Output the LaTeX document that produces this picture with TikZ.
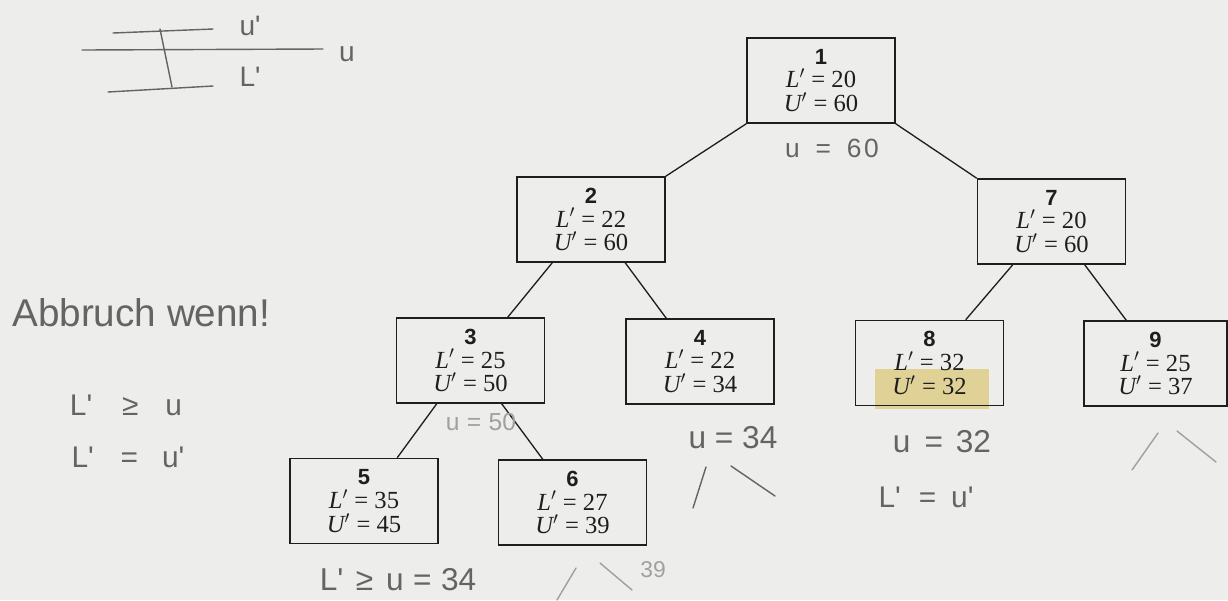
\documentclass[tikz,border=0pt]{standalone}
\usepackage{fontspec}
\setmainfont{Liberation Serif}
\newfontfamily\numfont{Liberation Sans}
\newfontfamily\handfont{Liberation Sans}
\usetikzlibrary{calc}
\definecolor{paper}{RGB}{237,237,235}
\definecolor{ink}{RGB}{30,30,30}
\definecolor{pencil}{RGB}{100,100,100}
\definecolor{faint}{RGB}{160,160,160}
\definecolor{marker}{RGB}{224,210,150}
\tikzset{
  bnode/.style={draw=ink, line width=0.9pt, minimum width=2.96cm, minimum height=1.7cm,
    inner sep=0pt, align=center, text=ink, font=\fontsize{14}{13.6}\selectfont},
  edge/.style={draw=ink, line width=0.75pt},
  hand/.style={text=pencil, font=\handfont\fontsize{17}{17}\selectfont, inner sep=0pt},
  faintHand/.style={hand, text=faint},
  stroke/.style={draw=pencil, line width=0.8pt, line cap=round},
  faintStroke/.style={draw=faint, line width=0.8pt, line cap=round},
}
\newcommand{\boxlab}[3]{{\numfont\bfseries\fontsize{12.5}{13.6}\selectfont #1}\\{\itshape L}$'$ = #2\\{\itshape U}$'$ = #3}
\begin{document}
\begin{tikzpicture}[x=0.02cm,y=-0.02cm]
\fill[paper] (0,0) rectangle (1228,600);
\useasboundingbox (0,0) rectangle (1228,600);
% highlighter on node 8
\fill[marker] (875,369) rectangle (989,409);
% boxes
\node[bnode] (n1) at (821,80.5) {\boxlab{1}{20}{60}};
\node[bnode] (n2) at (591,219.5) {\boxlab{2}{22}{60}};
\node[bnode] (n7) at (1051.5,221.5) {\boxlab{7}{20}{60}};
\node[bnode] (n3) at (470.5,360.5) {\boxlab{3}{25}{50}};
\node[bnode] (n4) at (700,361.5) {\boxlab{4}{22}{34}};
\node[bnode] (n8) at (929.5,363) {\boxlab{8}{32}{32}};
\node[bnode, minimum width=2.86cm] (n9) at (1155.5,363.5) {\boxlab{9}{25}{37}};
\node[bnode] (n5) at (364,501) {\boxlab{5}{35}{45}};
\node[bnode] (n6) at (572.5,502.5) {\boxlab{6}{27}{39}};
% connectors
\draw[edge] (n1.south west) -- (n2.north east);
\draw[edge] (n1.south east) -- (n7.north west);
\draw[edge] ($(n2.south west)+(36,0)$) -- ($(n3.north west)+(112,0)$);
\draw[edge] ($(n2.south west)+(109,0)$) -- ($(n4.north west)+(41,0)$);
\draw[edge] ($(n3.south west)+(41,0)$) -- ($(n5.north west)+(108,0)$);
\draw[edge] ($(n3.south west)+(106,0)$) -- ($(n6.north west)+(45,0)$);
\draw[edge] ($(n7.south west)+(36,0)$) -- ($(n8.north west)+(111,0)$);
\draw[edge] ($(n7.south west)+(108,0)$) -- ($(n9.north west)+(43,0)$);
% handwritten sketch top left
\draw[stroke] (113,33) -- (213,29);
\draw[stroke] (82,50) -- (323,49);
\draw[stroke] (108,92) -- (213,86);
\draw[stroke] (160,29) -- (172,87);
\node[hand, font=\handfont\fontsize{16}{16}\selectfont] (hu1) at (250,26) {u'};
\node[hand, font=\handfont\fontsize{16}{16}\selectfont] (hl1) at (250,77) {L'};
\node[hand, font=\handfont\fontsize{16}{16}\selectfont] (hu) at (347,54) {u};
% left notes
\node[hand, anchor=west, font=\handfont\fontsize{22}{22}\selectfont] (habb) at (12,313) {Abbruch wenn!};
\node[hand] (hc1) at (126,405) {L'\hspace{1em}≥\hspace{0.9em}u};
\node[hand] (hc2) at (128,457) {L'\hspace{0.9em}=\hspace{0.8em}u'};
% notes below boxes
\node[hand, font=\handfont\fontsize{15}{15}\selectfont] (hn1) at (832,148) {u\hspace{0.6em}=\hspace{0.6em}6\hspace{0.1em}0};
\node[faintHand, font=\handfont\fontsize{14}{14}\selectfont] (hn3) at (481,422) {u\hspace{0.3em}=\hspace{0.3em}50};
\node[hand, font=\handfont\fontsize{18}{18}\selectfont] (hn4) at (733,438) {u = 34};
\node[hand, font=\handfont\fontsize{18}{18}\selectfont] (hn8) at (942,442) {u\hspace{0.45em}=\hspace{0.4em}32};
\node[hand] (hn8b) at (926,497) {L'\hspace{0.6em}=\hspace{0.5em}u'};
\node[hand, font=\handfont\fontsize{18}{18}\selectfont] (hn5) at (398,580) {L'\hspace{0.4em}≥\hspace{0.4em}u\hspace{0.3em}=\hspace{0.3em}34};
\node[faintHand, font=\handfont\fontsize{13}{13}\selectfont] (hn6) at (653,570) {39};
% branch strokes
\draw[stroke] (693,508) -- (706,467);
\draw[stroke] (731,466) -- (775,496);
\draw[faintStroke] (1132,470) -- (1158,433);
\draw[faintStroke] (1177,431) -- (1216,462);
\draw[faintStroke] (557,600) -- (576,568);
\draw[faintStroke] (600,563) -- (632,590);
\end{tikzpicture}
\end{document}
